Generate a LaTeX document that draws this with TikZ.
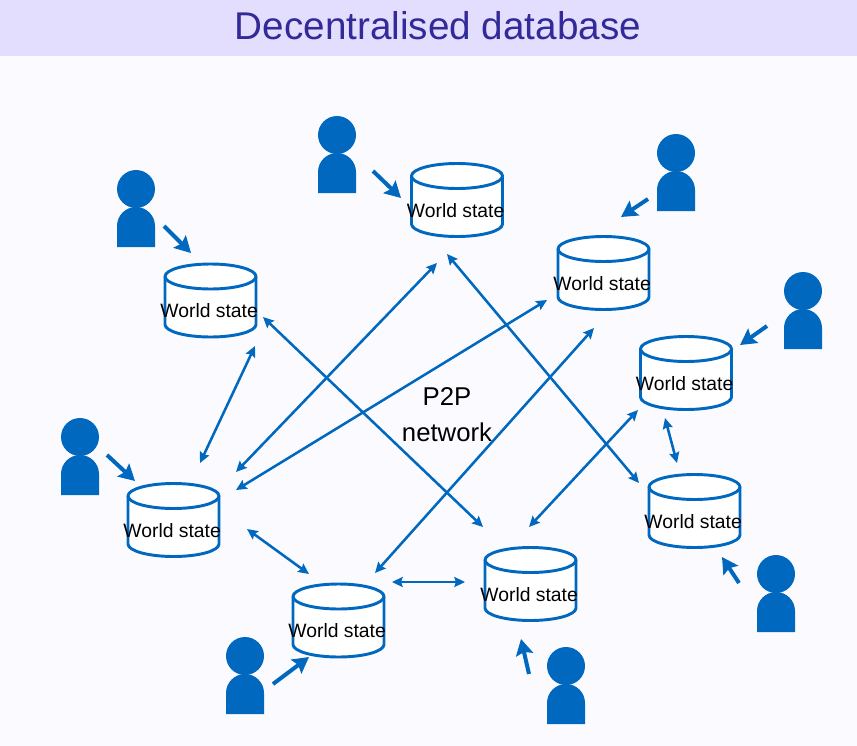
\documentclass[tikz,border=0pt]{standalone}
\usepackage{fontspec}
\setmainfont{Liberation Sans}
\usetikzlibrary{arrows.meta, calc}
\definecolor{cBlue}{RGB}{0,104,190}
\definecolor{cBand}{RGB}{227,222,253}
\definecolor{cTitle}{RGB}{50,42,153}
\definecolor{cPage}{RGB}{251,251,255}
\tikzset{
	dbshell/.style={draw=cBlue, line width=2.2pt, fill=white},
	dbnode/.style={rectangle, minimum width=69pt, minimum height=56pt, inner sep=0pt, text=black, font=\fontsize{14.5}{16}\selectfont},
	userhead/.style={circle, minimum size=28.5pt, inner sep=0pt, fill=cBlue},
	titlelabel/.style={text=cTitle, font=\fontsize{29}{32}\selectfont},
	netlabel/.style={align=center, font=\fontsize{19.3}{27}\selectfont},
	link/.style={{Stealth[length=8pt,width=7.5pt,inset=1.2pt]}-{Stealth[length=8pt,width=7.5pt,inset=1.2pt]}, cBlue, line width=1.9pt},
	entry/.style={-{Stealth[length=12pt,width=13pt,inset=2pt]}, cBlue, line width=3pt},
}
\begin{document}
\begin{tikzpicture}[x=0.75pt,y=-0.75pt]
	\fill[cPage] (0,0) rectangle (857,746);
	\fill[cBand] (0,0) rectangle (857,56);
	\node[titlelabel] (title) at (438,26) {Decentralised database};
	\node[netlabel] (net) at (447,415) {P2P\\network};
	% databases
	\foreach \db/\px/\py in {dbA/457/200, dbB/603.5/273, dbC/210.5/300.5, dbD/686/373, dbE/694.5/511, dbF/173.5/520, dbG/338.5/620.5, dbH/530.5/584} {
		\begin{scope}[shift={(\px,\py)}]
			\draw[dbshell] (-45.5,-24) arc[start angle=180, end angle=360, x radius=45.5, y radius=12.5] -- (45.5,24) arc[start angle=0, end angle=180, x radius=45.5, y radius=12.5] -- cycle;
			\draw[dbshell, fill=none] (-45.5,-24) arc[start angle=180, end angle=0, x radius=45.5, y radius=12.5];
		\end{scope}
		\node[dbnode] (\db) at (\px,\py) {\raisebox{-13pt}[0pt][0pt]{\makebox[0pt]{\hspace{-2pt}World state}}};
	}
	% users, body hangs below the head
	\foreach \usr/\px/\py in {usrA/337/135, usrB/676/153, usrC/136/189, usrD/803/291, usrF/80/437, usrE/776/574, usrG/245/656, usrH/566/666} {
		\node[userhead] (\usr) at (\px,\py) {};
		\fill[cBlue] ([shift={(-19,58)}]\usr.center) -- ++(0,-21) arc[start angle=180, end angle=360, radius=19] -- ++(0,21) -- cycle;
	}
	% user to own database
	\draw[entry] ([shift={(36,36)}]usrA.center) -- ([shift={(-56,-2)}]dbA.center);
	\draw[entry] ([shift={(-28,46)}]usrB.center) -- ([shift={(17.5,-56)}]dbB.center);
	\draw[entry] ([shift={(28,37)}]usrC.center) -- ([shift={(-19.5,-47.5)}]dbC.center);
	\draw[entry] ([shift={(-36,35)}]usrD.center) -- ([shift={(54,-28)}]dbD.center);
	\draw[entry] ([shift={(27,18)}]usrF.center) -- ([shift={(-38.5,-39)}]dbF.center);
	\draw[entry] ([shift={(-37,9)}]usrE.center) -- ([shift={(27.5,46)}]dbE.center);
	\draw[entry] ([shift={(28,28)}]usrG.center) -- ([shift={(-29.5,36.5)}]dbG.center);
	\draw[entry] ([shift={(-37,8)}]usrH.center) -- ([shift={(-9.5,55)}]dbH.center);
	% peer links
	\draw[link] ([shift={(-20,63)}]dbA.center) -- ([shift={(62.5,-48)}]dbF.center);
	\draw[link] ([shift={(-10,54)}]dbA.center) -- ([shift={(-55.5,-28)}]dbE.center);
	\draw[link] ([shift={(-56.5,27)}]dbB.center) -- ([shift={(62.5,-30)}]dbF.center);
	\draw[link] ([shift={(-9.5,55)}]dbB.center) -- ([shift={(36.5,-47.5)}]dbG.center);
	\draw[link] ([shift={(52.5,16.5)}]dbC.center) -- ([shift={(-47.5,-57)}]dbH.center);
	\draw[link] ([shift={(44.5,45.5)}]dbC.center) -- ([shift={(26.5,-57)}]dbF.center);
	\draw[link] ([shift={(-48,37)}]dbD.center) -- ([shift={(-1.5,-57)}]dbH.center);
	\draw[link] ([shift={(-21,45)}]dbD.center) -- ([shift={(-17.5,-48)}]dbE.center);
	\draw[link] ([shift={(73.5,9)}]dbF.center) -- ([shift={(-29.5,-46.5)}]dbG.center);
	\draw[link] ([shift={(53.5,-38.5)}]dbG.center) -- ([shift={(-65.5,-2)}]dbH.center);
\end{tikzpicture}
\end{document}
